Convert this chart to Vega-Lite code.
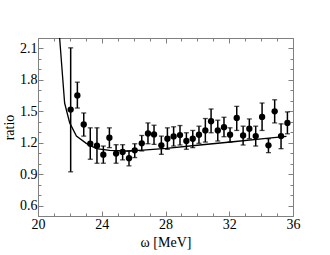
{
  "$schema": "https://vega.github.io/schema/vega-lite/v6.json",
  "width": 255,
  "height": 178,
  "autosize": {"type": "none"},
  "padding": {"left": 38, "top": 38, "right": 37, "bottom": 39},
  "background": "white",
  "config": {
    "view": {"stroke": null},
    "axis": {
      "domainColor": "#808080",
      "tickColor": "#808080",
      "labelFont": "Liberation Serif",
      "titleFont": "Liberation Serif",
      "labelFontSize": 14,
      "titleFontSize": 14,
      "titleFontWeight": "normal",
      "labelColor": "black",
      "titleColor": "black",
      "grid": false
    }
  },
  "datasets": {
    "curve": [
      {"w": 21.25, "r": 2.42},
      {"w": 21.36, "r": 2.195},
      {"w": 21.67, "r": 1.579},
      {"w": 21.99, "r": 1.389},
      {"w": 22.41, "r": 1.263},
      {"w": 23.03, "r": 1.194},
      {"w": 23.66, "r": 1.143},
      {"w": 24.5, "r": 1.127},
      {"w": 25.54, "r": 1.121},
      {"w": 26.59, "r": 1.13},
      {"w": 28.05, "r": 1.146},
      {"w": 30.15, "r": 1.178},
      {"w": 32.24, "r": 1.209},
      {"w": 34.33, "r": 1.241},
      {"w": 35.59, "r": 1.26}
    ],
    "pts": [
      {"w": 22.05, "r": 1.516, "lo": 0.922, "hi": 2.106},
      {"w": 22.47, "r": 1.651, "lo": 1.531, "hi": 1.778},
      {"w": 22.87, "r": 1.374, "lo": 1.263, "hi": 1.484},
      {"w": 23.28, "r": 1.19, "lo": 1.042, "hi": 1.342},
      {"w": 23.7, "r": 1.171, "lo": 1.004, "hi": 1.342},
      {"w": 24.1, "r": 1.086, "lo": 1.004, "hi": 1.168},
      {"w": 24.48, "r": 1.247, "lo": 1.153, "hi": 1.342},
      {"w": 24.9, "r": 1.096, "lo": 1.004, "hi": 1.181},
      {"w": 25.31, "r": 1.112, "lo": 1.036, "hi": 1.181},
      {"w": 25.71, "r": 1.052, "lo": 0.979, "hi": 1.118},
      {"w": 26.07, "r": 1.127, "lo": 1.058, "hi": 1.19},
      {"w": 26.51, "r": 1.194, "lo": 1.121, "hi": 1.269},
      {"w": 26.9, "r": 1.288, "lo": 1.19, "hi": 1.389},
      {"w": 27.28, "r": 1.279, "lo": 1.184, "hi": 1.367},
      {"w": 27.74, "r": 1.175, "lo": 1.089, "hi": 1.263},
      {"w": 28.12, "r": 1.238, "lo": 1.137, "hi": 1.342},
      {"w": 28.51, "r": 1.26, "lo": 1.168, "hi": 1.352},
      {"w": 28.91, "r": 1.273, "lo": 1.178, "hi": 1.364},
      {"w": 29.31, "r": 1.216, "lo": 1.137, "hi": 1.295},
      {"w": 29.71, "r": 1.238, "lo": 1.153, "hi": 1.317},
      {"w": 30.1, "r": 1.276, "lo": 1.194, "hi": 1.358},
      {"w": 30.5, "r": 1.317, "lo": 1.206, "hi": 1.431},
      {"w": 30.86, "r": 1.405, "lo": 1.295, "hi": 1.522},
      {"w": 31.28, "r": 1.317, "lo": 1.216, "hi": 1.415},
      {"w": 31.67, "r": 1.348, "lo": 1.257, "hi": 1.443},
      {"w": 32.05, "r": 1.276, "lo": 1.206, "hi": 1.342},
      {"w": 32.47, "r": 1.437, "lo": 1.317, "hi": 1.547},
      {"w": 32.87, "r": 1.269, "lo": 1.178, "hi": 1.358},
      {"w": 33.26, "r": 1.333, "lo": 1.238, "hi": 1.427},
      {"w": 33.66, "r": 1.263, "lo": 1.168, "hi": 1.358},
      {"w": 34.06, "r": 1.446, "lo": 1.317, "hi": 1.579},
      {"w": 34.46, "r": 1.175, "lo": 1.105, "hi": 1.238},
      {"w": 34.85, "r": 1.5, "lo": 1.389, "hi": 1.61},
      {"w": 35.25, "r": 1.263, "lo": 1.143, "hi": 1.38},
      {"w": 35.65, "r": 1.389, "lo": 1.285, "hi": 1.494}
    ]
  },
  "resolve": {"axis": {"x": "independent", "y": "independent"}},
  "layer": [
    {
      "data": {"name": "curve"},
      "mark": {"type": "line", "color": "black", "strokeWidth": 1.3, "clip": true},
      "encoding": {
        "x": {
          "field": "w", "type": "quantitative",
          "scale": {"domain": [20, 36], "nice": false, "zero": false},
          "axis": {
            "orient": "bottom",
            "title": "ω [MeV]",
            "values": [20,21,22,23,24,25,26,27,28,29,30,31,32,33,34,35,36],
            "labelExpr": "datum.value % 4 === 0 ? datum.label : ''",
            "tickSize": {"condition": {"test": "datum.value % 4 === 0", "value": -5}, "value": -3},
            "labelPadding": 6,
            "titlePadding": 4,
            "labelFlush": false
          }
        },
        "y": {
          "field": "r", "type": "quantitative",
          "scale": {"domain": [0.5, 2.2], "nice": false, "zero": false},
          "axis": {
            "orient": "left",
            "title": "ratio",
            "values": [0.5,0.6,0.7,0.8,0.9,1.0,1.1,1.2,1.3,1.4,1.5,1.6,1.7,1.8,1.9,2.0,2.1,2.2],
            "labelExpr": "indexof([0.6,0.9,1.2,1.5,1.8,2.1], datum.value) >= 0 ? format(datum.value, '.1f') : ''",
            "tickSize": {"condition": {"test": "indexof([0.6,0.9,1.2,1.5,1.8,2.1], datum.value) >= 0", "value": -5}, "value": -3},
            "labelPadding": 6,
            "titlePadding": 3,
            "labelFlush": false
          }
        }
      }
    },
    {
      "data": {"name": "pts"},
      "mark": {"type": "errorbar", "ticks": {"size": 5, "thickness": 1.3}, "rule": {"strokeWidth": 1.5}, "color": "black"},
      "encoding": {
        "x": {"field": "w", "type": "quantitative", "scale": {"domain": [20, 36], "nice": false, "zero": false}, "axis": null},
        "y": {"field": "lo", "type": "quantitative", "scale": {"domain": [0.5, 2.2], "nice": false, "zero": false}, "axis": null},
        "y2": {"field": "hi"}
      }
    },
    {
      "data": {"name": "pts"},
      "mark": {"type": "circle", "color": "black", "opacity": 1, "size": 40},
      "encoding": {
        "x": {
          "field": "w", "type": "quantitative",
          "scale": {"domain": [20, 36], "nice": false, "zero": false},
          "axis": {
            "orient": "top", "title": null, "labels": false,
            "values": [20,21,22,23,24,25,26,27,28,29,30,31,32,33,34,35,36],
            "tickSize": {"condition": {"test": "datum.value % 4 === 0", "value": -5}, "value": -3}
          }
        },
        "y": {
          "field": "r", "type": "quantitative",
          "scale": {"domain": [0.5, 2.2], "nice": false, "zero": false},
          "axis": {
            "orient": "right", "title": null, "labels": false,
            "values": [0.5,0.6,0.7,0.8,0.9,1.0,1.1,1.2,1.3,1.4,1.5,1.6,1.7,1.8,1.9,2.0,2.1,2.2],
            "tickSize": {"condition": {"test": "indexof([0.6,0.9,1.2,1.5,1.8,2.1], datum.value) >= 0", "value": -5}, "value": -3}
          }
        }
      }
    }
  ]
}
